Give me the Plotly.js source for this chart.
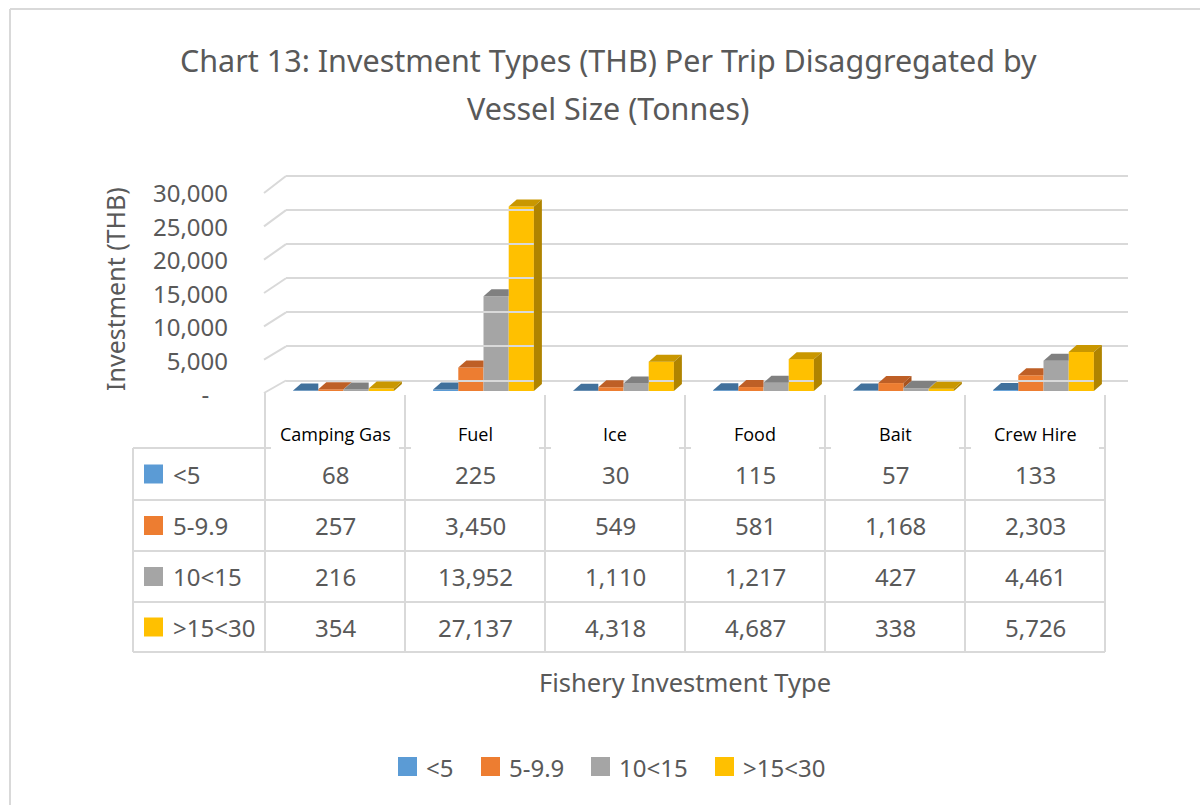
<!DOCTYPE html>
<html><head><meta charset="utf-8">
<script src="https://cdn.plot.ly/plotly-3.0.1.min.js"></script>
<style>html,body{margin:0;padding:0;background:#fff}#chart{width:1200px;height:805px}</style>
</head><body><div id="chart"></div>
<script>
// ---------- data ----------
const categories = ["Camping Gas", "Fuel", "Ice", "Food", "Bait", "Crew Hire"];
const seriesNames = ["<5", "5-9.9", "10<15", ">15<30"];
const sizeLt5 = [68, 225, 30, 115, 57, 133];
const size5to9 = [257, 3450, 549, 581, 1168, 2303];
const size10to15 = [216, 13952, 1110, 1217, 427, 4461];
const size15to30 = [354, 27137, 4318, 4687, 338, 5726];
const yTickVals = [0, 5000, 10000, 15000, 20000, 25000, 30000];
const yTickText = ["-\u00a0\u00a0\u00a0", "5,000", "10,000", "15,000", "20,000", "25,000", "30,000"];

// ---------- style / layout constants ----------
const seriesValues = [sizeLt5, size5to9, size10to15, size15to30];
const frontColors = ["#5B9BD5", "#ED7D31", "#A5A5A5", "#FFC000"];
const topColors = ["#41719C", "#BE5F26", "#808080", "#C99700"];
const sideColors = ["#3A6590", "#A9541F", "#717171", "#B08400"];
const W = 1200, H = 805;
const px = x => x / W;
const py = y => 1 - y / H;
const FONT = "Noto Sans";
const TXT = "#595959";
const GRID = "#D9D9D9";
const YMAX = 30000;

// bar plane
const barDomX = [273.5, 1113.5];     // pixels
const barDomY = [391, 187];          // pixels (0 -> 30000)
const barW = 0.18;
const colPx = (barDomX[1] - barDomX[0]) / 6;
const yPxPerUnit = (barDomY[0] - barDomY[1]) / YMAX;
const depthDx = 8, depthDy = 7;
const depthDyData = depthDy / yPxPerUnit;

// back wall
const backX = [286, 1128];
const backY = [380.5, 176];
const backPad = 300;
const backPxPerUnit = (backY[0] - backY[1]) / YMAX;

// front label plane
const labelAxisX = 229;
const labelY = [395, 194];
const frontY = [393, 193];

// table
const tableLeft = 133, tableFirst = 265, tableColW = 140;
const tableRight = tableFirst + tableColW * categories.length;
const rowLines = [448, 500, 551, 602, 652];

const idx = categories.map((_, k) => k);
const traces = [];
seriesValues.forEach((vals, i) => {
  traces.push({
    type: "bar", x: idx, y: vals, name: seriesNames[i],
    width: barW, offset: -0.36 + barW * i,
    marker: { color: frontColors[i], line: { width: 0 } },
    showlegend: false, hoverinfo: "y+name", xaxis: "x", yaxis: "y"
  });
});
// axis carriers
traces.push({ type: "scatter", mode: "markers", x: [null], y: [null], xaxis: "x5", yaxis: "y2", showlegend: false, hoverinfo: "skip" });
traces.push({ type: "scatter", mode: "markers", x: [null], y: [null], xaxis: "x3", yaxis: "y3", showlegend: false, hoverinfo: "skip" });
traces.push({ type: "scatter", mode: "markers", x: [null], y: [null], xaxis: "x4", yaxis: "y", showlegend: false, hoverinfo: "skip" });

const shapes = [];
// frame
shapes.push({ type: "line", xref: "paper", yref: "paper", x0: px(10), x1: px(10), y0: py(9), y1: py(805), line: { color: GRID, width: 2 } });
shapes.push({ type: "line", xref: "paper", yref: "paper", x0: px(10), x1: px(1200), y0: py(9), y1: py(9), line: { color: GRID, width: 2 } });

// side-wall diagonals linking the front label plane to the back wall
yTickVals.forEach(v => {
  const yf = frontY[0] - v * (frontY[0] - frontY[1]) / YMAX;
  const yb = backY[0] - v * backPxPerUnit;
  shapes.push({ type: "line", xref: "paper", yref: "paper", x0: px(264), x1: px(backX[0]), y0: py(yf), y1: py(yb), line: { color: GRID, width: 2 }, layer: "below" });
});

// 3D tops and sides of bars
const wPx = barW * colPx;
idx.forEach(k => {
  seriesValues.forEach((vals, i) => {
    const v = vals[k];
    const n = i < seriesValues.length - 1 ? seriesValues[i + 1][k] : 0;
    const x0 = k - 0.36 + barW * i;
    const vt = v + depthDyData;
    const topPath = n > v
      ? `M0,${v} L${depthDx},${vt} L${wPx},${vt} L${wPx},${v} Z`
      : `M0,${v} L${depthDx},${vt} L${wPx + depthDx},${vt} L${wPx},${v} Z`;
    shapes.push({ type: "path", xref: "x", yref: "y", xsizemode: "pixel", xanchor: x0, path: topPath, fillcolor: topColors[i], line: { width: 0 } });
    if (v > n) {
      const sidePath = `M${wPx},${v} L${wPx + depthDx},${vt} L${wPx + depthDx},${n + depthDyData} L${wPx},${n} Z`;
      shapes.push({ type: "path", xref: "x", yref: "y", xsizemode: "pixel", xanchor: x0, path: sidePath, fillcolor: sideColors[i], line: { width: 0 } });
    }
  });
});

// table grid
const lineP = (x0, y0, x1, y1) => shapes.push({ type: "line", xref: "paper", yref: "paper", x0: px(x0), x1: px(x1), y0: py(y0), y1: py(y1), line: { color: GRID, width: 2 } });
lineP(tableLeft, rowLines[0], tableLeft, rowLines[4]);
lineP(tableFirst, 393, tableFirst, rowLines[4]);
for (let c = 1; c <= categories.length; c++) {
  const xb = tableFirst + c * tableColW;
  lineP(xb, 395, xb, rowLines[4]);
  lineP(xb - 6, rowLines[0], Math.min(xb + 6, tableRight), rowLines[0]);
}
lineP(tableLeft, rowLines[0], tableFirst + 6, rowLines[0]);
for (let r = 1; r < rowLines.length; r++) lineP(tableLeft, rowLines[r], tableRight, rowLines[r]);

const annotations = [];
// titles
annotations.push({ xref: "paper", yref: "paper", x: px(608), y: py(60), text: "Chart 13: Investment Types (THB) Per Trip Disaggregated by", showarrow: false, font: { family: FONT, size: 30.5, color: TXT }, xanchor: "center", yanchor: "middle" });
annotations.push({ xref: "paper", yref: "paper", x: px(608), y: py(108), text: "Vessel Size (Tonnes)", showarrow: false, font: { family: FONT, size: 30.5, color: TXT }, xanchor: "center", yanchor: "middle" });
annotations.push({ xref: "paper", yref: "paper", x: px(685), y: py(682), text: "Fishery Investment Type", showarrow: false, font: { family: FONT, size: 25.5, color: TXT }, xanchor: "center", yanchor: "middle" });
annotations.push({ xref: "paper", yref: "paper", x: px(115), y: py(289), text: "Investment (THB)", textangle: -90, showarrow: false, font: { family: FONT, size: 25, color: TXT }, xanchor: "center", yanchor: "middle" });

// category header row
categories.forEach((c, k) => {
  annotations.push({ xref: "x4", yref: "paper", x: k, y: py(434), text: c, showarrow: false, font: { family: "Open Sans", size: 18, color: "#000" }, xanchor: "center", yanchor: "middle" });
});
// table body
seriesValues.forEach((vals, r) => {
  const yc = (rowLines[r] + rowLines[r + 1]) / 2;
  annotations.push({ xref: "paper", yref: "paper", x: px(171), y: py(yc), text: seriesNames[r], showarrow: false, font: { family: FONT, size: 24, color: TXT }, xanchor: "left", yanchor: "middle" });
  shapes.push({ type: "rect", xref: "paper", yref: "paper", x0: px(144), x1: px(163), y0: py(yc - 9.5), y1: py(yc + 9.5), fillcolor: frontColors[r], line: { width: 0 } });
  vals.forEach((v, k) => {
    annotations.push({ xref: "x4", yref: "paper", x: k, y: py(yc), text: v.toLocaleString("en-US"), showarrow: false, font: { family: FONT, size: 24, color: TXT }, xanchor: "center", yanchor: "middle" });
  });
});
// bottom legend
const legSq = [398, 481, 591, 715];
seriesNames.forEach((nm, i) => {
  shapes.push({ type: "rect", xref: "paper", yref: "paper", x0: px(legSq[i]), x1: px(legSq[i] + 19), y0: py(757), y1: py(776), fillcolor: frontColors[i], line: { width: 0 } });
  annotations.push({ xref: "paper", yref: "paper", x: px(legSq[i] + 26), y: py(767), text: nm, showarrow: false, font: { family: FONT, size: 24, color: TXT }, xanchor: "left", yanchor: "middle" });
});

const layout = {
  width: W, height: H,
  margin: { l: 0, r: 0, t: 0, b: 0 },
  paper_bgcolor: "#fff", plot_bgcolor: "rgba(0,0,0,0)",
  barmode: "overlay",
  showlegend: false,
  font: { family: FONT, color: TXT },
  xaxis: { domain: [px(barDomX[0]), px(barDomX[1])], range: [-0.5, 5.5], visible: false, anchor: "y", fixedrange: true },
  yaxis: { domain: [py(barDomY[0]), py(barDomY[1])], range: [0, YMAX], visible: false, anchor: "x", fixedrange: true },
  xaxis5: { domain: [px(labelAxisX), px(1128)], range: [0, 1], visible: false, anchor: "y2" },
  yaxis2: {
    domain: [py(labelY[0]), py(labelY[1])], range: [0, YMAX], anchor: "x5",
    tickvals: yTickVals, ticktext: yTickText, showgrid: false, zeroline: false, showline: false, ticks: "",
    tickfont: { family: FONT, size: 24, color: TXT }
  },
  xaxis3: { domain: [px(backX[0]), px(backX[1])], range: [0, 1], visible: false, anchor: "y3" },
  yaxis3: {
    domain: [py(backY[0] + backPad * backPxPerUnit), py(backY[1] - backPad * backPxPerUnit)],
    range: [-backPad, YMAX + backPad], anchor: "x3",
    tickvals: yTickVals, showticklabels: false, ticks: "", showgrid: true, gridcolor: GRID, gridwidth: 2,
    zeroline: false, showline: false
  },
  xaxis4: { domain: [px(tableFirst), px(tableRight)], range: [-0.5, 5.5], visible: false, anchor: "y" },
  shapes: shapes,
  annotations: annotations
};

Plotly.newPlot("chart", traces, layout, { displayModeBar: false, staticPlot: true });
</script>
</body></html>
